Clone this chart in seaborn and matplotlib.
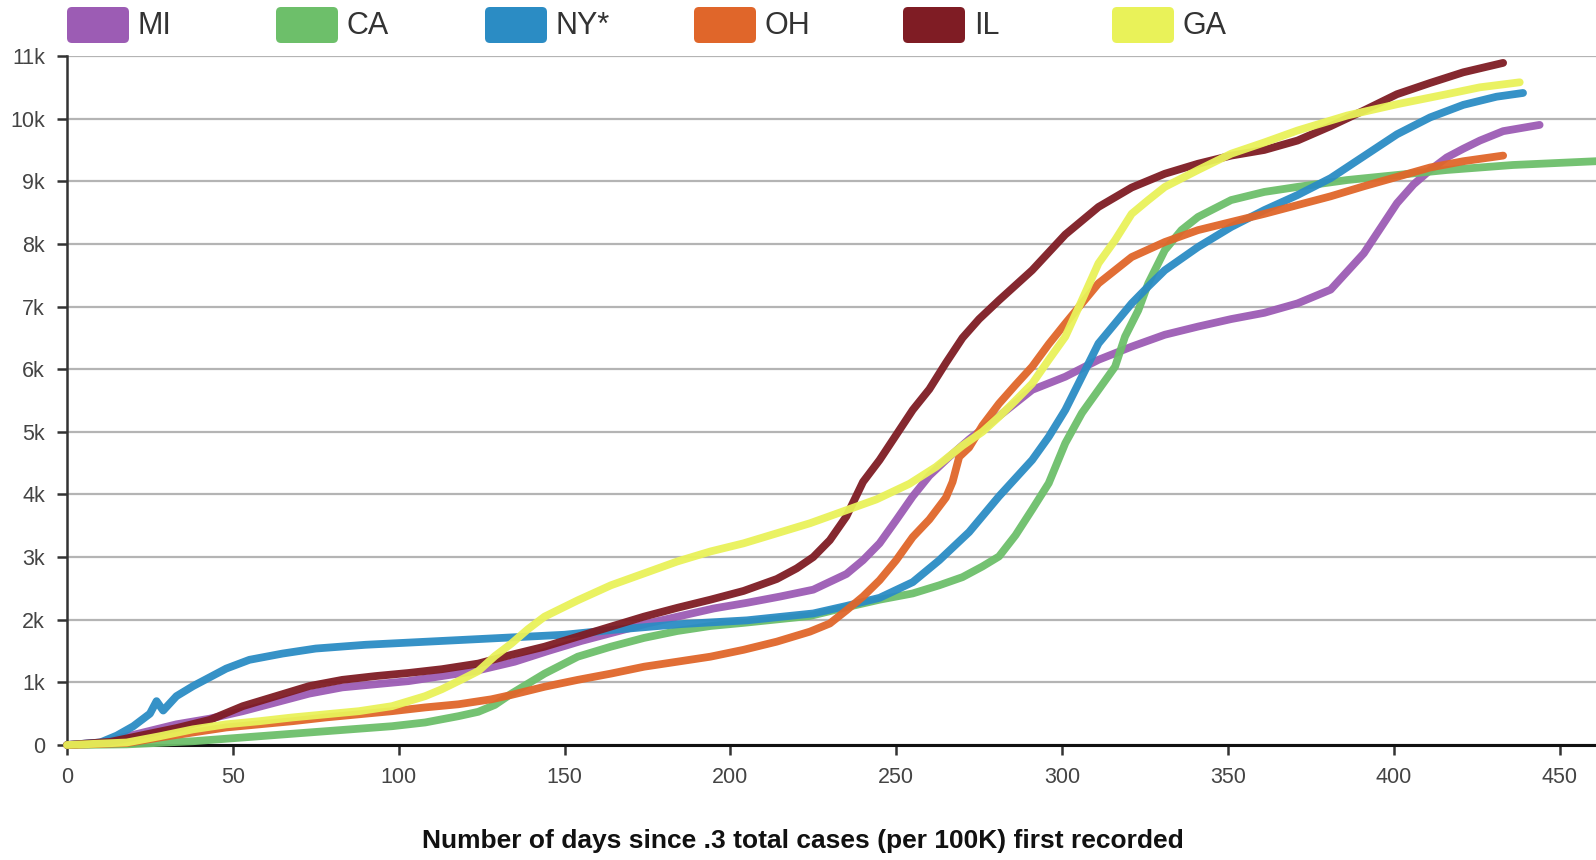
import matplotlib.pyplot as plt
from matplotlib.patches import FancyBboxPatch
import pandas as pd
import seaborn as sns

states = ["MI", "CA", "NY*", "OH", "IL", "GA"]
colors = ["#9c5cb4", "#6dbf6a", "#2b8cc4", "#e0662a", "#7f1c24", "#e9f259"]

# cumulative cases per 100K, in thousands
mi_days = [0, 10, 13, 23, 33, 43, 53, 63, 73, 83, 93, 103, 113, 123, 135, 145, 155, 165, 175,
           185, 195, 205, 215, 225, 235, 240, 245, 250, 255, 260, 266, 272, 281, 291, 301, 311,
           321, 331, 341, 351, 361, 371, 381, 391, 396, 401, 406, 411, 416, 421, 426, 433, 444]
mi_k = [0, 0.04, 0.07, 0.2, 0.33, 0.42, 0.54, 0.68, 0.82, 0.92, 0.97, 1.02, 1.1, 1.18, 1.33,
        1.5, 1.66, 1.8, 1.94, 2.06, 2.18, 2.27, 2.37, 2.48, 2.73, 2.95, 3.22, 3.59, 3.97, 4.3,
        4.6, 4.88, 5.25, 5.67, 5.88, 6.15, 6.36, 6.55, 6.68, 6.8, 6.9, 7.05, 7.27, 7.85, 8.25,
        8.65, 8.95, 9.18, 9.38, 9.52, 9.65, 9.8, 9.9]

ca_days = [0, 18, 38, 58, 78, 98, 108, 118, 124, 129, 134, 139, 144, 154, 164, 174, 184, 194,
           204, 224, 235, 245, 255, 263, 270, 276, 281, 286, 291, 296, 301, 306, 311, 316, 319,
           323, 326, 331, 336, 341, 351, 361, 371, 386, 401, 416, 436, 461]
ca_k = [0, 0.01, 0.06, 0.14, 0.22, 0.3, 0.36, 0.46, 0.53, 0.64, 0.82, 0.98, 1.14, 1.41, 1.57,
        1.71, 1.82, 1.9, 1.95, 2.06, 2.2, 2.32, 2.42, 2.55, 2.68, 2.85, 3.01, 3.35, 3.76, 4.18,
        4.82, 5.3, 5.67, 6.04, 6.52, 6.94, 7.37, 7.9, 8.22, 8.43, 8.7, 8.83, 8.91, 9.02, 9.1,
        9.18, 9.26, 9.32]

ny_days = [0, 10, 15, 20, 25, 27, 29, 33, 38, 43, 48, 55, 65, 75, 90, 105, 120, 135, 150, 165,
           185, 205, 225, 235, 245, 255, 263, 272, 281, 291, 296, 301, 306, 311, 316, 321, 326,
           331, 341, 351, 361, 371, 381, 391, 401, 411, 421, 431, 439]
ny_k = [0, 0.04, 0.15, 0.3, 0.5, 0.7, 0.55, 0.78, 0.94, 1.08, 1.22, 1.36, 1.46, 1.54, 1.6,
        1.64, 1.68, 1.72, 1.76, 1.84, 1.93, 1.99, 2.1, 2.22, 2.35, 2.6, 2.95, 3.4, 3.97, 4.55,
        4.92, 5.35, 5.88, 6.41, 6.73, 7.05, 7.32, 7.58, 7.95, 8.27, 8.54, 8.78, 9.05, 9.4,
        9.75, 10.02, 10.22, 10.35, 10.41]

oh_days = [0, 18, 28, 38, 48, 58, 68, 78, 88, 98, 108, 118, 128, 134, 144, 154, 164, 174, 184,
           194, 204, 214, 224, 230, 235, 240, 245, 250, 255, 260, 265, 267, 269, 272, 276, 281,
           286, 291, 296, 301, 311, 321, 331, 341, 351, 361, 371, 381, 391, 401, 411, 421, 433]
oh_k = [0, 0.03, 0.12, 0.2, 0.28, 0.33, 0.38, 0.44, 0.49, 0.54, 0.6, 0.65, 0.73, 0.8, 0.93,
        1.04, 1.14, 1.25, 1.33, 1.41, 1.52, 1.65, 1.81, 1.94, 2.15, 2.37, 2.63, 2.95, 3.32, 3.6,
        3.95, 4.2, 4.6, 4.75, 5.1, 5.45, 5.75, 6.04, 6.4, 6.73, 7.37, 7.79, 8.03, 8.22, 8.35,
        8.48, 8.62, 8.76, 8.92, 9.07, 9.22, 9.32, 9.41]

il_days = [0, 13, 23, 33, 43, 53, 63, 73, 83, 93, 103, 113, 124, 134, 144, 154, 164, 174, 184,
           194, 204, 214, 220, 225, 230, 235, 240, 245, 250, 255, 260, 265, 270, 275, 281, 291,
           301, 311, 321, 331, 341, 351, 361, 371, 381, 391, 401, 411, 421, 433]
il_k = [0, 0.05, 0.16, 0.27, 0.4, 0.62, 0.78, 0.94, 1.04, 1.1, 1.15, 1.21, 1.3, 1.44, 1.57,
        1.73, 1.89, 2.05, 2.19, 2.32, 2.46, 2.65, 2.82, 3.0, 3.27, 3.65, 4.2, 4.55, 4.95, 5.35,
        5.68, 6.1, 6.5, 6.8, 7.1, 7.58, 8.15, 8.59, 8.9, 9.12, 9.28, 9.41, 9.5, 9.65, 9.88,
        10.13, 10.39, 10.57, 10.74, 10.89]

ga_days = [0, 18, 28, 38, 48, 58, 68, 78, 88, 98, 103, 108, 113, 118, 124, 129, 134, 139, 144,
           154, 164, 174, 184, 194, 204, 214, 224, 234, 244, 254, 262, 270, 276, 281, 286, 291,
           296, 301, 306, 311, 316, 321, 326, 331, 341, 351, 361, 371, 386, 401, 416, 426, 438]
ga_k = [0, 0.04, 0.14, 0.25, 0.33, 0.38, 0.44, 0.49, 0.54, 0.62, 0.7, 0.78, 0.89, 1.02, 1.18,
        1.42, 1.62, 1.85, 2.05, 2.31, 2.55, 2.74, 2.93, 3.09, 3.22, 3.38, 3.54, 3.73, 3.92,
        4.17, 4.44, 4.78, 5.0, 5.24, 5.5, 5.77, 6.15, 6.52, 7.1, 7.69, 8.06, 8.48, 8.7, 8.91,
        9.18, 9.44, 9.62, 9.81, 10.05, 10.23, 10.39, 10.5, 10.58]

y_ticks = list(range(0, 12))
y_labels = ["0"] + [f"{v}k" for v in range(1, 12)]
x_ticks = list(range(0, 451, 50))
x_title = "Number of days since .3 total cases (per 100K) first recorded"

all_days = [mi_days, ca_days, ny_days, oh_days, il_days, ga_days]
all_vals = [mi_k, ca_k, ny_k, oh_k, il_k, ga_k]
frames = []
for st, d, v in zip(states, all_days, all_vals):
    frames.append(pd.DataFrame({"day": d, "cases": v, "state": st}))
df = pd.concat(frames, ignore_index=True)

sns.set_style("white")
plt.rcParams["font.family"] = ["Liberation Sans", "DejaVu Sans"]

W, H = 1596, 860
fig = plt.figure(figsize=(W / 100, H / 100), dpi=100)
ax = fig.add_axes([67 / W, 115 / H, 1 - 67 / W, 689 / H])

sns.lineplot(data=df, x="day", y="cases", hue="state", hue_order=states,
             palette=dict(zip(states, colors)), estimator=None, sort=False,
             linewidth=5.6, alpha=0.95, solid_capstyle="round", solid_joinstyle="round",
             clip_on=False, legend=False, ax=ax, zorder=3)

ax.set_xlim(0, 461)
ax.set_ylim(0, 11)
ax.set_xticks(x_ticks)
ax.set_yticks(y_ticks)
ax.set_yticklabels(y_labels)
ax.set_xlabel("")
ax.set_ylabel("")
ax.yaxis.grid(True, color="#b4b4b4", linewidth=1.6)
ax.xaxis.grid(False)
ax.set_axisbelow(True)
for s in ["top", "right"]:
    ax.spines[s].set_visible(False)
ax.spines["left"].set_color("#333333")
ax.spines["left"].set_linewidth(1.8)
ax.spines["bottom"].set_color("#111111")
ax.spines["bottom"].set_linewidth(2.2)
ax.tick_params(axis="both", length=7, width=1.8, color="#333333", labelsize=15.5,
               labelcolor="#444444", pad=9, left=True, bottom=True)

# overlay in pixel coordinates for legend and title
ov = fig.add_axes([0, 0, 1, 1])
ov.set_xlim(0, W)
ov.set_ylim(H, 0)
ov.axis("off")
for i, (st, c) in enumerate(zip(states, colors)):
    x0 = 67 + i * 209
    ov.add_patch(FancyBboxPatch((x0 + 3, 10), 56, 30,
                                boxstyle="round,pad=3,rounding_size=5",
                                facecolor=c, edgecolor="none"))
    ov.text(x0 + 71, 26, st, fontsize=22, color="#333333", va="center", ha="left")

ov.text(803, 841, x_title, fontsize=19, fontweight="bold", color="#111111",
        ha="center", va="center")

fig.savefig("out.png", dpi=100)
